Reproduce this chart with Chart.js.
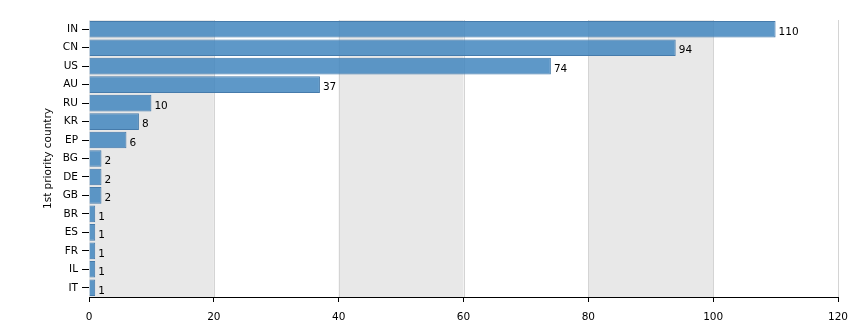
<!DOCTYPE html>
<html><head><meta charset="utf-8">
<script src="https://cdn.jsdelivr.net/npm/chart.js@4/dist/chart.umd.min.js"></script>
<style>html,body{margin:0;padding:0;background:#fff}#wrap{width:858px;height:332px}</style>
</head><body><div id="wrap"><canvas id="c" width="858" height="332"></canvas></div>
<script>
const categories = ["IN","CN","US","AU","RU","KR","EP","BG","DE","GB","BR","ES","FR","IL","IT"];
const values = [110,94,74,37,10,8,6,2,2,2,1,1,1,1,1];
const xTicks = [0,20,40,60,80,100,120];
const yTitle = "1st priority country";

const FONT = "'DejaVu Sans', Verdana, sans-serif";
const FS = 10.5;

const bands = {
  id: 'bands',
  beforeDatasetsDraw(chart) {
    const {ctx, chartArea: a, scales: {x}} = chart;
    ctx.save();
    ctx.fillStyle = '#e8e8e8';
    for (let i = 0; i + 1 < xTicks.length; i += 2) {
      const x0 = x.getPixelForValue(xTicks[i]), x1 = x.getPixelForValue(xTicks[i+1]);
      ctx.fillRect(x0, a.top, x1 - x0, a.bottom - a.top);
    }
    ctx.strokeStyle = '#d4d4d4'; ctx.lineWidth = 1;
    xTicks.slice(1).forEach(v => {
      const px = Math.round(x.getPixelForValue(v)) + 0.5;
      ctx.beginPath(); ctx.moveTo(px, a.top); ctx.lineTo(px, a.bottom); ctx.stroke();
    });
    ctx.restore();
  }
};
const labels = {
  id: 'vlabels',
  afterDatasetsDraw(chart) {
    const {ctx, chartArea: a} = chart;
    const meta = chart.getDatasetMeta(0);
    ctx.save();
    ctx.font = FS + 'px ' + FONT;
    ctx.fillStyle = '#000';
    ctx.textBaseline = 'middle';
    meta.data.forEach((b, i) => {
      ctx.fillText(String(values[i]), b.x + 3, b.y + 3);
    });
    ctx.translate(48, (a.top + a.bottom) / 2);
    ctx.rotate(-Math.PI / 2);
    ctx.textAlign = 'center';
    ctx.fillText(yTitle, 0, 0);
    ctx.restore();
  }
};

new Chart(document.getElementById('c'), {
  type: 'bar',
  data: { labels: categories, datasets: [{
    data: values,
    backgroundColor: 'rgba(66,134,190,0.85)',
    borderColor: '#467bab',
    borderWidth: 1,
    categoryPercentage: 0.9,
    barPercentage: 1.0
  }]},
  options: {
    indexAxis: 'y',
    responsive: false,
    animation: false,
    layout: { padding: { top: 20, right: 20, left: 0, bottom: 0 } },
    plugins: { legend: { display: false }, tooltip: { enabled: false } },
    scales: {
      x: {
        min: 0, max: 120,
        afterBuildTicks(s) { s.ticks = xTicks.map(v => ({value: v})); },
        afterFit(s) { s.height = 35; },
        grid: { drawOnChartArea: false, tickColor: '#000', tickLength: 5 },
        border: { color: '#000', width: 1 },
        ticks: { color: '#000', font: { family: FONT, size: FS }, padding: 9, maxRotation: 0 }
      },
      y: {
        afterFit(s) { s.width = 89; },
        grid: { offset: false, drawOnChartArea: false, tickColor: '#000', tickLength: 7 },
        border: { color: '#000', width: 1 },
        ticks: { color: '#000', font: { family: FONT, size: FS }, padding: 4 }
      }
    }
  },
  plugins: [bands, labels]
});
</script></body></html>
